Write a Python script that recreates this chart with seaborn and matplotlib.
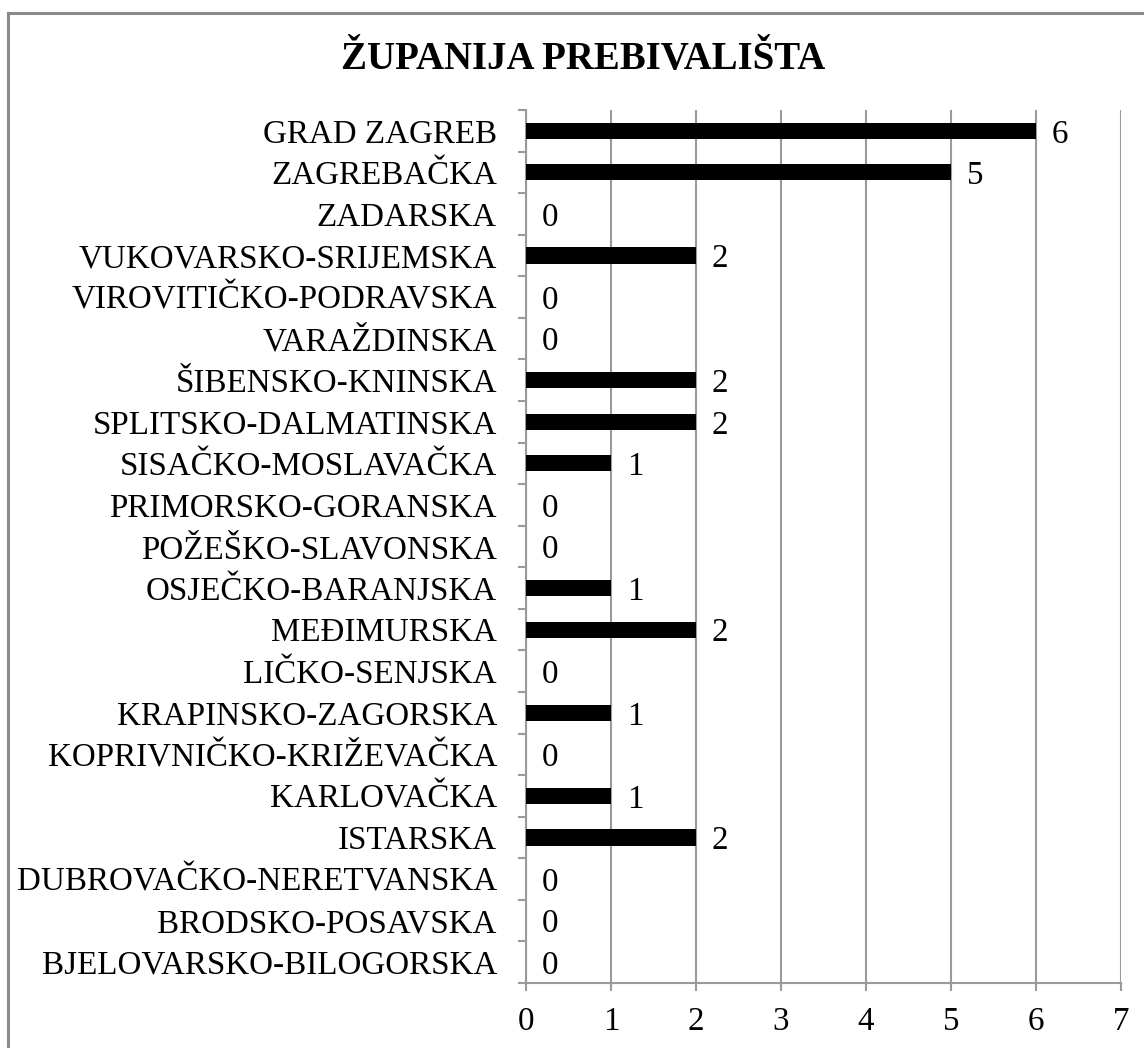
import matplotlib
matplotlib.use("Agg")
import matplotlib.pyplot as plt
from matplotlib.patches import Rectangle
from matplotlib.ticker import FixedLocator
import seaborn as sns
import pandas as pd

counties = [
    "GRAD ZAGREB", "ZAGREBAČKA", "ZADARSKA", "VUKOVARSKO-SRIJEMSKA",
    "VIROVITIČKO-PODRAVSKA", "VARAŽDINSKA", "ŠIBENSKO-KNINSKA",
    "SPLITSKO-DALMATINSKA", "SISAČKO-MOSLAVAČKA", "PRIMORSKO-GORANSKA",
    "POŽEŠKO-SLAVONSKA", "OSJEČKO-BARANJSKA", "MEĐIMURSKA", "LIČKO-SENJSKA",
    "KRAPINSKO-ZAGORSKA", "KOPRIVNIČKO-KRIŽEVAČKA", "KARLOVAČKA", "ISTARSKA",
    "DUBROVAČKO-NERETVANSKA", "BRODSKO-POSAVSKA", "BJELOVARSKO-BILOGORSKA",
]
counts = [6, 5, 0, 2, 0, 0, 2, 2, 1, 0, 0, 1, 2, 0, 1, 0, 1, 2, 0, 0, 0]
x_ticks = [0, 1, 2, 3, 4, 5, 6, 7]
title = "ŽUPANIJA PREBIVALIŠTA"

df = pd.DataFrame({"county": counties, "count": counts})

sns.set_theme(style="white")
plt.rcParams["font.family"] = ["Liberation Serif", "DejaVu Serif"]

text_size = 23.8
grid_color = "#9a9a9a"
fig = plt.figure(figsize=(11.44, 10.48), dpi=100)
ax = fig.add_axes([526 / 1144, 1 - 983 / 1048, 595 / 1144, 873 / 1048])

sns.barplot(data=df, x="count", y="county", order=counties, color="black",
            width=0.39, saturation=1, linewidth=0, ax=ax, zorder=3)

ax.set_xlim(0, 7)
ax.set_ylim(len(counties) - 0.5, -0.5)
ax.set_xticks(x_ticks)
ax.set_xticklabels([str(t) for t in x_ticks])
ax.set_xlabel("")
ax.set_ylabel("")

ax.grid(axis="x", color=grid_color, linewidth=1.5, zorder=0)
ax.grid(axis="y", visible=False)
for side in ("top", "right"):
    ax.spines[side].set_visible(False)
for side in ("left", "bottom"):
    ax.spines[side].set_color(grid_color)
    ax.spines[side].set_linewidth(1.5)

# category boundaries carry the small outside ticks
ax.yaxis.set_minor_locator(FixedLocator([i - 0.5 for i in range(len(counties) + 1)]))
ax.tick_params(axis="y", which="major", length=0, pad=21, labelsize=text_size,
               labelcolor="black")
ax.tick_params(axis="y", which="minor", length=6, width=1.5, color=grid_color,
               left=True)
ax.tick_params(axis="x", which="major", length=6, width=1.5, color=grid_color,
               pad=11, labelsize=text_size, labelcolor="black", bottom=True)

for container in ax.containers:
    texts = ax.bar_label(container, labels=[str(v) for v in counts],
                         padding=11.5, fontsize=text_size, color="black")
    for t in texts:
        t.set_verticalalignment("center_baseline")

fig.text(583 / 1144, 1 - 60 / 1048, title, ha="center", va="center",
         fontsize=28, fontweight="bold", color="black")

fig.patches.append(Rectangle((8 / 1144, -0.05), 1.2, 1 - 13 / 1048 + 0.05,
                             transform=fig.transFigure, fill=False,
                             edgecolor="#8a8a8a", linewidth=2.2, zorder=0))

fig.savefig("out.png", dpi=100)
